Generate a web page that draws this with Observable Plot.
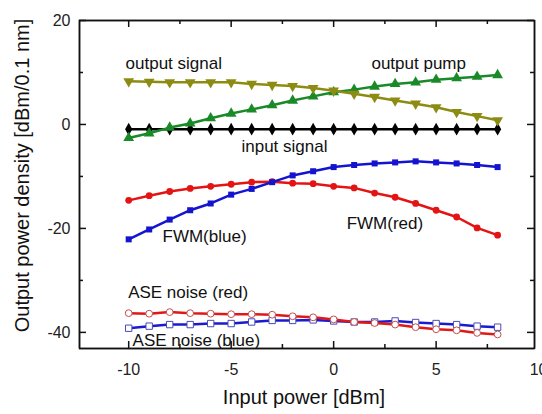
<!DOCTYPE html>
<html><head><meta charset="utf-8">
<script src="https://cdn.jsdelivr.net/npm/d3@7"></script>
<script src="https://cdn.jsdelivr.net/npm/@observablehq/plot@0.6"></script>
<style>body{margin:0;background:#fff;} #chart svg{display:block;}</style>
</head><body><div id="chart"></div>
<script>
const inputPower   = [-10, -9, -8, -7, -6, -5, -4, -3, -2, -1, 0, 1, 2, 3, 4, 5, 6, 7, 8];
const outputSignal = [8.3, 8.2, 8.1, 8.1, 8.1, 8.1, 7.8, 7.6, 7.4, 7.0, 6.5, 5.9, 5.3, 4.6, 4.0, 3.3, 2.4, 1.6, 0.8];
const outputPump   = [-2.6, -1.7, -0.6, 0.2, 1.2, 2.1, 2.9, 3.7, 4.6, 5.4, 6.2, 6.7, 7.3, 7.8, 8.1, 8.6, 8.9, 9.2, 9.5];
const inputSignal  = [-0.9, -0.9, -0.9, -0.9, -0.9, -0.9, -0.9, -0.9, -0.9, -0.9, -0.9, -0.9, -0.9, -0.9, -0.9, -0.9, -0.9, -0.9, -0.9];
const fwmBlue      = [-22.1, -20.2, -18.3, -16.5, -15.2, -13.5, -12.4, -11.1, -9.8, -9.0, -8.2, -7.8, -7.5, -7.3, -7.1, -7.3, -7.5, -7.8, -8.2];
const fwmRed       = [-14.6, -13.7, -12.9, -12.3, -11.9, -11.5, -11.1, -11.0, -11.3, -11.4, -11.9, -12.2, -13.2, -14.0, -15.2, -16.5, -17.8, -19.9, -21.3];
const aseRed       = [-36.3, -36.4, -36.1, -36.3, -36.4, -36.5, -36.5, -36.6, -36.9, -37.1, -37.5, -38.0, -38.2, -38.5, -39.0, -39.4, -39.6, -40.1, -40.4];
const aseBlue      = [-39.2, -38.8, -38.5, -38.5, -38.3, -38.3, -38.0, -37.7, -37.7, -37.6, -37.8, -38.0, -38.0, -37.8, -38.1, -38.3, -38.5, -38.8, -39.0];

const xMajorTicks = [-10, -5, 0, 5, 10];
const xMinorTicks = [-7.5, -2.5, 2.5, 7.5];
const yMajorTicks = [-40, -20, 0, 20];
const yMinorTicks = [-30, -10, 10];

const seriesLabels = [
  {text: "output signal", x: -7.8, y: 11.8},
  {text: "output pump", x: 4.15, y: 11.8},
  {text: "input signal", x: -2.4, y: -4.3},
  {text: "FWM(blue)", x: -6.3, y: -21.6},
  {text: "FWM(red)", x: 2.5, y: -19.0},
  {text: "ASE noise (red)", x: -7.1, y: -32.4},
  {text: "ASE noise (blue)", x: -6.7, y: -41.5}
];

const series = [
  {name: "ASE blue", values: aseBlue, line: "#1a1ad0", stroke: "#4a4ab8", fill: "white", symbol: "square", r: 3.6, rotate: 0},
  {name: "ASE red", values: aseRed, line: "#e01818", stroke: "#c05050", fill: "white", symbol: "circle", r: 3.4, rotate: 0},
  {name: "FWM red", values: fwmRed, line: "#e41414", stroke: "none", fill: "#e41414", symbol: "circle", r: 3.4, rotate: 0},
  {name: "FWM blue", values: fwmBlue, line: "#1414d0", stroke: "none", fill: "#1414d0", symbol: "square", r: 3.4, rotate: 0},
  {name: "input signal", values: inputSignal, line: "#000000", stroke: "none", fill: "#000000", symbol: "diamond", r: 3.8, rotate: 0},
  {name: "output pump", values: outputPump, line: "#1a8a28", stroke: "none", fill: "#1a8a28", symbol: "triangle", r: 4.0, rotate: 0},
  {name: "output signal", values: outputSignal, line: "#8c8c12", stroke: "none", fill: "#8c8c12", symbol: "triangle", r: 4.0, rotate: 180}
];

const W = 542, H = 414, ML = 79, MR = 8, MT = 20, MB = 66;
const FW = W - ML - MR, FH = H - MT - MB;
const xDomain = [-12.4, 9.8];
const yDomain = [-43.1, 20];

const marks = [];
for (const s of series) {
  const data = inputPower.map((x, i) => ({x, y: s.values[i]}));
  marks.push(Plot.line(data, {x: "x", y: "y", stroke: s.line, strokeWidth: 2.5}));
  marks.push(Plot.dot(data, {x: "x", y: "y", symbol: s.symbol, r: s.r, fill: s.fill, stroke: s.stroke, strokeWidth: 1, rotate: s.rotate}));
}

const tk = {stroke: "#111", strokeWidth: 1.5};
const xMajIn = xMajorTicks.filter(d => d >= xDomain[0] && d <= xDomain[1]);
const chart = Plot.plot({
  width: W,
  height: H,
  marginLeft: ML,
  marginRight: MR,
  marginTop: MT,
  marginBottom: MB,
  style: {fontFamily: "'Liberation Sans', Arial, sans-serif", background: "white", color: "#222"},
  x: {domain: xDomain, axis: null},
  y: {domain: yDomain, axis: null},
  marks: [
    ...marks,
    Plot.frame({stroke: "#111", strokeWidth: 1.5}),
    Plot.ruleX(xDomain, {x: d => d, ...tk}),
    Plot.ruleY(yDomain, {y: d => d, ...tk}),
    Plot.ruleX(xMajIn, {x: d => d, insetTop: FH - 7, ...tk}),
    Plot.ruleX(xMajIn, {x: d => d, insetBottom: FH - 7, ...tk}),
    Plot.ruleX(xMinorTicks, {x: d => d, insetTop: FH - 4, ...tk}),
    Plot.ruleX(xMinorTicks, {x: d => d, insetBottom: FH - 4, ...tk}),
    Plot.ruleY(yMajorTicks, {y: d => d, insetRight: FW - 7, ...tk}),
    Plot.ruleY(yMajorTicks, {y: d => d, insetLeft: FW - 7, ...tk}),
    Plot.ruleY(yMinorTicks, {y: d => d, insetRight: FW - 4, ...tk}),
    Plot.ruleY(yMinorTicks, {y: d => d, insetLeft: FW - 4, ...tk}),
    Plot.text(xMajorTicks, {x: d => d, frameAnchor: "bottom", dy: 26, fontSize: 16, fill: "#222"}),
    Plot.text(yMajorTicks, {y: d => d, frameAnchor: "left", textAnchor: "end", dx: -9, fontSize: 16, fill: "#222"}),
    Plot.text(seriesLabels, {x: "x", y: "y", text: "text", textAnchor: "middle", fontSize: 17, fill: "#111"}),
    Plot.text(["Input power [dBm]"], {frameAnchor: "bottom", textAnchor: "middle", dy: 55, dx: -3, fontSize: 20, fill: "#111"}),
    Plot.text(["Output power density [dBm/0.1 nm]"], {frameAnchor: "left", textAnchor: "middle", rotate: -90, dx: -57, dy: -9, fontSize: 20, fill: "#111"})
  ]
});
document.getElementById("chart").append(chart);
</script>
</body></html>
